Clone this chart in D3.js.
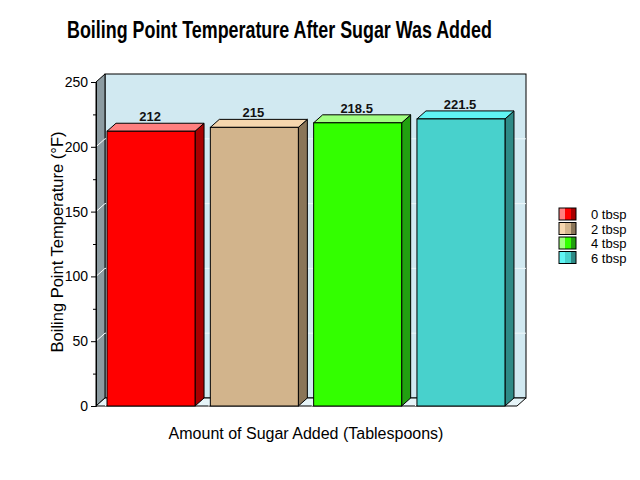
<!DOCTYPE html>
<html><head><meta charset="utf-8">
<script src="https://cdn.jsdelivr.net/npm/d3@7"></script>
<style>body{margin:0;background:#fff}svg{display:block}</style>
</head><body>
<script>
const categories = ["0 tbsp", "2 tbsp", "4 tbsp", "6 tbsp"];
const values = [212, 215, 218.5, 221.5];
const valueLabels = ["212", "215", "218.5", "221.5"];
const mainColors = ["#ff0000", "#d2b48c", "#33ff00", "#48d1cc"];
const topColors = ["#ff7f7f", "#f5d6ae", "#a0ff80", "#60f4f4"];
const sideColors = ["#a80000", "#8a7558", "#22a010", "#2e8a86"];
const yTicks = [0, 50, 100, 150, 200, 250];
const yMinorTicks = [25, 75, 125, 175, 225];
const title = "Boiling Point Temperature After Sugar Was Added";
const xTitle = "Amount of Sugar Added (Tablespoons)";
const yTitle = "Boiling Point Temperature (°F)";

const W = 640, H = 480;
const dx = 9, dy = -8;
const svg = d3.select("body").append("svg").attr("width", W).attr("height", H);

const y = d3.scaleLinear().domain([0, 250]).range([406, 82]);
const x = d3.scaleBand().domain(categories).range([97, 515]).paddingInner(0.148).paddingOuter(0.097);

const x0 = 96, x1 = 517;
// back wall
svg.append("rect").attr("x", x0 + dx).attr("y", y(250) + dy).attr("width", x1 - x0).attr("height", y(0) - y(250))
  .attr("fill", "#d1e9f1").attr("stroke", "#000").attr("stroke-width", 1);
// side wall
svg.append("polygon").attr("points", [[x0, y(0)], [x0, y(250)], [x0 + dx, y(250) + dy], [x0 + dx, y(0) + dy]].join(" "))
  .attr("fill", "#8c9ba1").attr("stroke", "#000");
// floor
svg.append("polygon").attr("points", [[x0, y(0)], [x1, y(0)], [x1 + dx, y(0) + dy], [x0 + dx, y(0) + dy]].join(" "))
  .attr("fill", "#e6f4f8").attr("stroke", "#000");
// grid lines
const grid = yTicks.filter(t => t > 0 && t < 250);
svg.selectAll(".gb").data(grid).enter().append("line")
  .attr("x1", x0 + dx).attr("x2", x1 + dx).attr("y1", d => y(d) + dy).attr("y2", d => y(d) + dy)
  .attr("stroke", "#eef8fb").attr("stroke-width", 1);
svg.selectAll(".gs").data(grid).enter().append("line")
  .attr("x1", x0).attr("x2", x0 + dx).attr("y1", d => y(d)).attr("y2", d => y(d) + dy)
  .attr("stroke", "#fff").attr("stroke-width", 1);
// floor separators
svg.selectAll(".fs").data(categories).enter().append("line")
  .attr("x1", d => x(d) - 2).attr("x2", d => x(d) - 2 + dx).attr("y1", y(0)).attr("y2", y(0) + dy)
  .attr("stroke", "#fff");

// axis
const axis = d3.axisLeft(y).tickValues(yTicks).tickSize(5).tickPadding(3);
const ag = svg.append("g").attr("transform", `translate(${x0},0)`).call(axis);
ag.select(".domain").attr("stroke", "#000");
ag.selectAll("text").attr("font-family", "Liberation Sans, Arial, sans-serif").attr("font-size", 14).attr("fill", "#000");
svg.append("g").attr("transform", `translate(${x0},0)`)
  .call(d3.axisLeft(y).tickValues(yMinorTicks).tickSize(3).tickFormat(""))
  .select(".domain").remove();

// bars
const bars = svg.selectAll(".bar").data(values).enter().append("g");
bars.append("polygon").attr("points", (d, i) => {
  const bx = x(categories[i]) + x.bandwidth();
  return [[bx, y(d)], [bx + dx, y(d) + dy], [bx + dx, y(0) + dy], [bx, y(0)]].join(" ");
}).attr("fill", (d, i) => sideColors[i]).attr("stroke", "#000").attr("stroke-width", 1);
bars.append("polygon").attr("points", (d, i) => {
  const bx = x(categories[i]), bw = x.bandwidth();
  return [[bx, y(d)], [bx + dx, y(d) + dy], [bx + bw + dx, y(d) + dy], [bx + bw, y(d)]].join(" ");
}).attr("fill", (d, i) => topColors[i]).attr("stroke", "#000").attr("stroke-width", 1);
bars.append("rect").attr("x", (d, i) => x(categories[i])).attr("y", d => y(d))
  .attr("width", x.bandwidth()).attr("height", d => y(0) - y(d))
  .attr("fill", (d, i) => mainColors[i]).attr("stroke", "#000").attr("stroke-width", 1);
bars.append("text").attr("x", (d, i) => x(categories[i]) + x.bandwidth() / 2 - 1)
  .attr("y", d => y(d) + dy - 2).attr("text-anchor", "middle")
  .attr("font-family", "Liberation Sans, Arial, sans-serif").attr("font-weight", "bold").attr("font-size", 13)
  .attr("fill", "#111").text((d, i) => valueLabels[i]);

// titles
const tg = svg.append("g");
const tt = tg.append("text").attr("x", 0).attr("y", 0).attr("font-family", "Liberation Sans, Arial, sans-serif")
  .attr("font-weight", "bold").attr("font-size", 23).attr("fill", "#000").text(title);
const tw = tt.node().getComputedTextLength() || 425;
tg.attr("transform", `translate(67,38) scale(${425 / tw},1)`);
svg.append("text").attr("x", 306).attr("y", 439).attr("text-anchor", "middle")
  .attr("font-family", "Liberation Sans, Arial, sans-serif").attr("font-size", 16).attr("fill", "#000").text(xTitle);
svg.append("text").attr("transform", "translate(63,242) rotate(-90)").attr("text-anchor", "middle")
  .attr("font-family", "Liberation Sans, Arial, sans-serif").attr("font-size", 16.5).attr("fill", "#000").text(yTitle);

// legend
const lg = svg.selectAll(".lg").data(categories).enter().append("g")
  .attr("transform", (d, i) => `translate(559,${208 + i * 14.5})`);
lg.append("rect").attr("width", 6).attr("height", 12).attr("fill", (d, i) => topColors[i]);
lg.append("rect").attr("x", 6).attr("width", 6).attr("height", 12).attr("fill", (d, i) => mainColors[i]);
lg.append("rect").attr("x", 12).attr("width", 5).attr("height", 12).attr("fill", (d, i) => sideColors[i]);
lg.append("rect").attr("width", 17).attr("height", 12).attr("fill", "none").attr("stroke", "#000");
lg.append("text").attr("x", 32).attr("y", 11).attr("font-family", "Liberation Sans, Arial, sans-serif")
  .attr("font-size", 13).attr("fill", "#000").text(d => d);
</script>
</body></html>
